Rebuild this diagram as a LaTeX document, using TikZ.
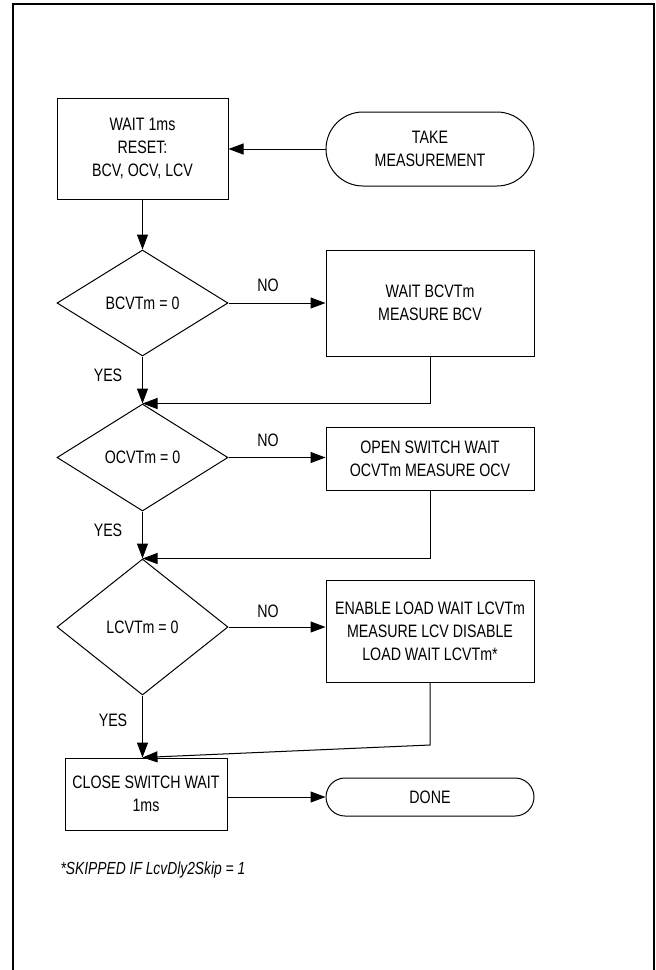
\documentclass[tikz,border=0pt]{standalone}
\usepackage{fontspec}
\setmainfont{Liberation Sans}[FakeStretch=0.79]
\usetikzlibrary{arrows.meta,shapes.geometric,shapes.misc}
\begin{document}
\begin{tikzpicture}[x=1pt,y=-1pt,
        font=\fontsize{18}{23}\selectfont,
        arr/.style={-{Triangle[length=15pt,width=11pt]},line width=1pt},
        box/.style={draw,line width=1pt,align=center,inner sep=0pt},
        term/.style={draw,rounded rectangle,line width=1pt,align=center,inner sep=0pt},
        cond/.style={draw,diamond,line width=1pt,inner sep=0pt,aspect=1.6}]
        \useasboundingbox (0,0) rectangle (656,970);
        \draw[line width=2pt] (13,970) -- (13,4) -- (654,4) -- (654,970);

        \node[box,minimum width=171pt,minimum height=101pt] (init) at (142.5,148.5) {WAIT 1ms\\RESET:\\BCV, OCV, LCV};
        \node[term,minimum width=208pt,minimum height=74pt] (take) at (430,149) {TAKE\\MEASUREMENT};

        \node[cond,minimum width=171pt,minimum height=106pt] (bcvq) at (142.5,303) {BCVTm = 0};
        \node[box,minimum width=208pt,minimum height=106pt] (bcv) at (430,303) {WAIT BCVTm\\MEASURE BCV};

        \node[cond,minimum width=171pt,minimum height=107pt] (ocvq) at (142.5,457.5) {OCVTm = 0};
        \node[box,minimum width=208pt,minimum height=63pt] (ocv) at (430,458.5) {OPEN SWITCH WAIT\\OCVTm MEASURE OCV};

        \node[cond,minimum width=171pt,minimum height=136pt] (lcvq) at (142.5,627) {LCVTm = 0};
        \node[box,minimum width=208pt,minimum height=102pt] (lcv) at (430,631) {ENABLE LOAD WAIT LCVTm\\MEASURE LCV DISABLE\\LOAD WAIT LCVTm*};

        \node[box,minimum width=162pt,minimum height=72pt] (close) at (146,794) {CLOSE SWITCH WAIT\\1ms};
        \node[term,minimum width=208pt,minimum height=38pt] (done) at (430,797) {DONE};

        \node (no1) at (268,285) {NO};
        \node (no2) at (268,440) {NO};
        \node (no3) at (268,611) {NO};
        \node (yes1) at (108,375) {YES};
        \node (yes2) at (108,530) {YES};
        \node (yes3) at (113,720) {YES};

        \node[anchor=west,font=\fontsize{17.5}{20}\selectfont\itshape] (note) at (57,870) {*SKIPPED IF LcvDly2Skip = 1};

        \coordinate (lbend) at (430,745);

        \draw[arr] (take.west) -- (take.west -| init.east);
        \draw[arr] (init.south) -- (bcvq.north);
        \draw[arr] (bcvq.east) -- (bcv.west);
        \draw[arr] (bcvq.south) -- (ocvq.north);
        \draw[arr] (bcv.south) |- (ocvq.north);
        \draw[arr] (ocvq.east) -- (ocv.west |- ocvq.east);
        \draw[arr] (ocvq.south) -- (lcvq.north);
        \draw[arr] (ocv.south) |- (lcvq.north);
        \draw[arr] (lcvq.east) -- (lcv.west |- lcvq.east);
        \draw[arr] (lcvq.south) -- (lcvq.south |- close.north);
        \draw[arr] (lcv.south) -- (lbend) -- (lcvq.south |- close.north);
        \draw[arr] (close.east |- done.west) -- (done.west);
\end{tikzpicture}
\end{document}
